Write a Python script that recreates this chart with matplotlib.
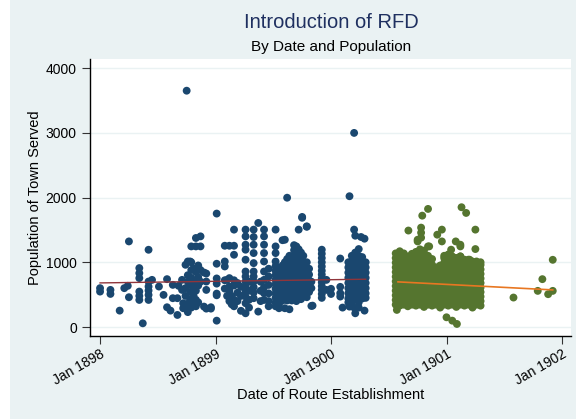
import matplotlib
matplotlib.use("Agg")
import matplotlib.pyplot as plt
from matplotlib.patches import Rectangle

plt.rcParams['font.family'] = ['Liberation Sans', 'DejaVu Sans']

# route establishment date (decimal year) -> populations of towns served on that date
blue_date = [
    1898.00, 1898.09, 1898.17, 1898.21, 1898.24, 1898.25, 1898.34, 1898.37,
    1898.42, 1898.45, 1898.51, 1898.55, 1898.58, 1898.61, 1898.63, 1898.67,
    1898.68, 1898.71, 1898.72, 1898.74, 1898.75, 1898.76, 1898.78, 1898.79,
    1898.81, 1898.83, 1898.85, 1898.87, 1898.90, 1898.92, 1898.96, 1899.01,
    1899.08, 1899.10, 1899.12, 1899.14, 1899.16, 1899.19, 1899.22, 1899.26,
    1899.29, 1899.33, 1899.37, 1899.39, 1899.42, 1899.46, 1899.52, 1899.55,
    1899.58, 1899.60, 1899.62, 1899.64, 1899.66, 1899.68, 1899.70, 1899.72,
    1899.74, 1899.75, 1899.76, 1899.79, 1899.81, 1899.83, 1899.84, 1899.92,
    1899.96, 1900.00, 1900.08, 1900.10, 1900.15, 1900.16, 1900.18, 1900.20,
    1900.21, 1900.24, 1900.26, 1900.27, 1900.29, 1900.30,
]
blue_pop = [
    [600, 547], [573, 511], [253], [600], [636], [1322, 460],
    [910, 832, 755, 547, 480, 418], [57],
    [1193, 702, 625, 563, 496, 418], [728], [625], [496], [739, 305], [253],
    [651, 445], [445, 186],
    [636], [728, 573], [367, 290], [961, 600, 480, 290], [3650],
    [1012, 800, 700, 360, 230], [1012, 650, 540, 420], [1245, 1000, 880, 760, 300],
    [900, 620, 480, 350], [1375, 1245, 850, 700, 560, 420, 320], [950, 770, 640, 380],
    [1400, 1245, 880, 700], [842, 315], [826, 702, 573, 284], [305, 284],
    [1752, 977, 750, 670, 516, 490, 98],
    [1255, 1012, 935, 722, 593], [728, 480], [1255, 755, 625, 560, 400], [480, 350],
    [1504, 1255, 1116, 722, 640, 420, 320], [680, 530, 400], [620, 480, 250],
    [1504, 1400, 1271, 1194, 1039, 857, 780, 702, 625, 547, 470, 367, 212],
    [700, 560, 420, 300], [1504, 1390, 1271, 1142, 987, 857, 780, 702, 615, 532, 445],
    [1607, 238], [700, 560, 400], [1504, 1400, 1271, 1142, 1012, 857, 728, 615, 522, 418],
    [900, 780, 650, 520, 400, 320],
    [1504, 1245, 1142, 1012, 940, 870, 800, 730, 660, 590, 520, 450, 380, 320],
    [900, 810, 720, 630, 540, 450, 360, 290],
    [1341, 950, 860, 770, 680, 590, 500, 410],
    [1348, 1000, 900, 810, 720, 630, 540, 450, 290],
    [1997, 1050, 950, 860, 770, 680, 590, 500, 410],
    [1100, 1000, 900, 810, 720, 630, 540, 450, 274],
    [1050, 950, 860, 770, 680, 590, 500, 410],
    [1264, 1187, 1100, 1000, 910, 820, 730, 640, 550, 460],
    [1245, 1194, 1120, 1030, 940, 850, 760, 670, 580, 490, 400],
    [1504, 1200, 1100, 1010, 920, 830, 740, 650, 560, 470],
    [1150, 1060, 970, 880, 790, 700, 610, 520, 430], [1700, 1687],
    [1100, 1010, 920, 830, 740, 650, 560, 470],
    [1555, 1548, 1000, 910, 820, 730, 640, 550, 460],
    [900, 810, 720, 630, 540], [325, 700, 600], [330],
    [1194, 1132, 1065, 1000, 935, 870, 810, 750, 690, 630, 573, 510, 450],
    [728, 573], [590, 510], [1058, 620, 522, 470], [300],
    [1000, 920, 840, 760, 680, 600, 520, 440, 380], [2020, 315],
    [1100, 1020, 940, 860, 780, 700, 620, 540, 460, 380], [2998, 1504, 300],
    [1410, 1150, 1070, 990, 910, 830, 750, 670, 590, 510, 430, 212],
    [1204, 1100, 1020, 940, 860, 780, 700, 620, 540, 460, 380, 300], [1390],
    [1080, 1000, 920, 840, 760, 680, 600, 520, 440], [1364, 253],
    [1000, 920, 840, 760, 680, 600, 520, 450],
]

green_date = [
    1900.560, 1900.595, 1900.630, 1900.665, 1900.700, 1900.735, 1900.770, 1900.805,
    1900.840, 1900.875, 1900.910, 1900.945, 1900.980, 1901.015, 1901.050, 1901.085,
    1901.120, 1901.155, 1901.190, 1901.225, 1901.260, 1901.295,
    1900.57, 1900.67, 1900.75, 1900.78, 1900.79, 1900.84, 1900.85, 1900.92,
    1900.96, 1901.00, 1901.04, 1901.05, 1901.08, 1901.09, 1901.12, 1901.13,
    1901.17, 1901.20, 1901.25, 1901.58, 1901.79, 1901.83, 1901.88, 1901.92,
]
green_pop = [
    [345, 417, 489, 561, 633, 705, 777, 849, 921, 993, 1065, 1137],
    [330, 400, 470, 540, 610, 680, 750, 820, 890, 960, 1030, 1100, 1170],
    [345, 417, 489, 561, 633, 705, 777, 849, 921, 993, 1065, 1137],
    [320, 390, 460, 530, 600, 670, 740, 810, 880, 950, 1020, 1090],
    [345, 417, 489, 561, 633, 705, 777, 849, 921, 993, 1065, 1130],
    [330, 400, 470, 540, 610, 680, 750, 820, 890, 960, 1030, 1100, 1160],
    [345, 417, 489, 561, 633, 705, 777, 849, 921, 993, 1065, 1137, 1200],
    [310, 390, 460, 530, 600, 670, 740, 810, 880, 950, 1020, 1090, 1180],
    [345, 417, 489, 561, 633, 705, 777, 849, 921, 993, 1065, 1100],
    [330, 400, 470, 540, 610, 680, 750, 820, 890, 960, 1050],
    [345, 417, 489, 561, 633, 705, 777, 849, 921],
    [300, 390, 460, 530, 600, 670, 740, 810, 880, 950],
    [345, 417, 489, 561, 633, 705, 777, 849, 921, 993, 1065, 1100],
    [330, 400, 470, 540, 610, 680, 750, 820, 890, 960, 1030, 1120],
    [345, 417, 489, 561, 633, 705, 777, 849, 921, 993, 1065, 1090],
    [310, 390, 460, 530, 600, 670, 740, 810, 880, 950, 1020, 1065],
    [345, 417, 489, 561, 633, 705, 777, 849, 921, 993, 1065, 1090],
    [330, 400, 470, 540, 610, 680, 750, 820, 890, 960, 1040],
    [345, 417, 489, 561, 633, 705, 777, 849, 921, 993, 1040],
    [300, 390, 460, 530, 600, 670, 740, 810, 880, 950, 1012],
    [345, 417, 489, 561, 633, 705, 777, 849, 921, 993, 1012],
    [330, 400, 470, 540, 610, 680, 750, 820, 890, 960, 1000],
    [264], [1490], [1348, 1322], [1535, 1457, 1380], [1720], [1824, 1245], [1245],
    [1426], [1504, 1322], [150], [1194], [98], [1322, 1065], [47],
    [1271, 1245, 1090], [1850], [1762], [1039], [1504, 1204],
    [455], [558], [739], [507], [558, 1038],
]

# fitted trend lines (end points)
blue_fit_date = [1898.00, 1900.30]
blue_fit_pop = [681, 738]
green_fit_date = [1900.58, 1901.92]
green_fit_pop = [697, 573]

x_ticks = [1898, 1899, 1900, 1901, 1902]
x_labels = ["Jan 1898", "Jan 1899", "Jan 1900", "Jan 1901", "Jan 1902"]
y_ticks = [0, 1000, 2000, 3000, 4000]


def expand(dates, pops):
    xs, ys = [], []
    for d, vals in zip(dates, pops):
        for v in vals:
            xs.append(d)
            ys.append(v)
    return xs, ys


bg = "#EAF2F3"
fig = plt.figure(figsize=(5.76, 4.19), dpi=100, facecolor=bg)
fig.patches.append(Rectangle((0, 0), 10 / 576, 1, transform=fig.transFigure,
                             facecolor="white", edgecolor="none", zorder=-1))
ax = fig.add_axes([90 / 576, 1 - 336 / 419, 481 / 576, (336 - 59.3) / 419])
ax.set_facecolor("white")

bx, by = expand(blue_date, blue_pop)
gx, gy = expand(green_date, green_pop)
ax.scatter(bx, by, s=32, color="#1A476F", edgecolors="none", zorder=3)
ax.scatter(gx, gy, s=32, color="#55752F", edgecolors="none", zorder=3)
ax.plot(blue_fit_date, blue_fit_pop, color="#90353B", lw=1.0, zorder=4)
ax.plot(green_fit_date, green_fit_pop, color="#E87722", lw=1.2, zorder=4)

ax.set_xlim(1897.913, 1902.078)
ax.set_ylim(-139, 4135)
ax.set_yticks(y_ticks)
ax.set_yticklabels([str(v) for v in y_ticks], fontsize=10)
ax.set_xticks(x_ticks)
ax.set_xticklabels(x_labels, fontsize=10, rotation=30, ha="right",
                   rotation_mode="anchor")
ax.tick_params(axis="both", direction="out", length=6, width=0.8, color="#333333")
ax.tick_params(axis="x", pad=2)
ax.grid(axis="y", color=bg, lw=1.0, zorder=0)
ax.set_axisbelow(True)
for side in ["top", "right"]:
    ax.spines[side].set_visible(False)
for side in ["left", "bottom"]:
    ax.spines[side].set_linewidth(1.0)

ax.set_ylabel("Population of Town Served", fontsize=10.5, labelpad=3)
ax.set_xlabel("Date of Route Establishment", fontsize=10.5, labelpad=0)

fig.text(0.575, 1 - 23 / 419, "Introduction of RFD", ha="center", va="center",
         fontsize=14.5, color="#1F3060")
fig.text(0.575, 1 - 47 / 419, "By Date and Population", ha="center", va="center",
         fontsize=11, color="black")

fig.savefig("out.png", dpi=100, facecolor=bg)
